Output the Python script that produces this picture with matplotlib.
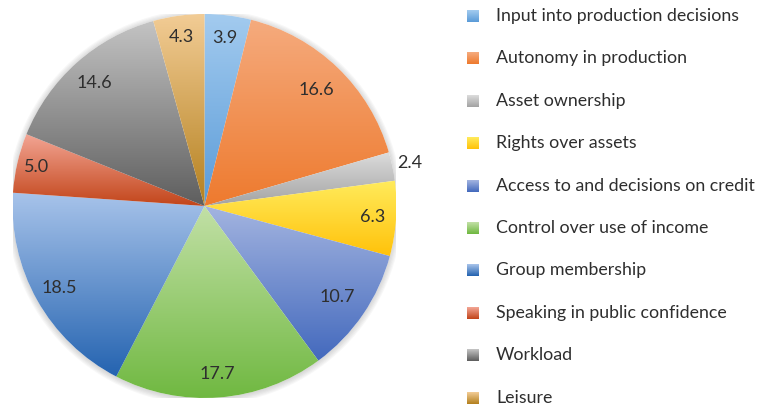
import numpy as np
import matplotlib
matplotlib.use("Agg")
import matplotlib.pyplot as plt
from matplotlib.patches import Wedge, Circle
from matplotlib.colors import LinearSegmentedColormap

# data
categories = ["Input into production decisions", "Autonomy in production",
              "Asset ownership", "Rights over assets",
              "Access to and decisions on credit", "Control over use of income",
              "Group membership", "Speaking in public confidence",
              "Workload", "Leisure"]
values = [3.9, 16.6, 2.4, 6.3, 10.7, 17.7, 18.5, 5.0, 14.6, 4.3]

# gradient colours (top, bottom) per slice
tops = ["#a3cbef", "#f5ab7e", "#dcdcdc", "#ffeb5c", "#a3b4e0",
        "#c2e0a6", "#a7c3ea", "#f3a594", "#c4c4c4", "#f2cc95"]
bottoms = ["#5a9bd8", "#ee7a2e", "#a3a3a3", "#ffc20a", "#4369bd",
           "#6fb840", "#2463b0", "#c2451a", "#5e5e5e", "#b4801e"]
label_r = [0.88, 0.84, 1.09, 0.88, 0.84, 0.88, 0.87, 0.9, 0.86, 0.89]

W, H = 757, 407
fig = plt.figure(figsize=(W / 100, H / 100), dpi=100)

# pie axes: centre (204.5, 206) px, radius 192 px
cx, cy, R = 204.5, 206, 192
ax = fig.add_axes([(cx - R) / W, (H - cy - R) / H, 2 * R / W, 2 * R / H])
ax.set_axis_off()

# soft shadow ring
for k in range(6):
    ax.add_patch(Circle((0.0, -0.005), 1.0 + 0.006 * k, color="#808080",
                        alpha=0.06, lw=0, zorder=0))
ax.add_patch(Circle((0, 0), 1.0, color="white", lw=0, zorder=0.5))

grad = np.linspace(0, 1, 256).reshape(-1, 1)
total = sum(values)
start = 90.0
for i, v in enumerate(values):
    span = 360.0 * v / total
    t1, t2 = start - span, start
    wedge = Wedge((0, 0), 1.0, t1, t2, lw=0, facecolor="none")
    ax.add_patch(wedge)
    verts = wedge.get_path().vertices
    ymin, ymax = verts[:, 1].min(), verts[:, 1].max()
    cmap = LinearSegmentedColormap.from_list("g%d" % i, [tops[i], bottoms[i]])
    im = ax.imshow(grad, cmap=cmap, extent=[-1.05, 1.05, ymin, ymax],
                   origin="upper", aspect="auto", zorder=1,
                   interpolation="bilinear")
    im.set_clip_path(wedge)
    mid = np.radians((t1 + t2) / 2)
    ax.text(label_r[i] * np.cos(mid), label_r[i] * np.sin(mid), "%.1f" % v,
            ha="center", va="center", fontsize=13, color="#2e2e2e",
            family="Lato", zorder=3)
    start = t1

ax.set_xlim(-1, 1)
ax.set_ylim(-1, 1)
ax.set_aspect("equal")

# legend drawn in pixel coordinates
lg = fig.add_axes([0, 0, 1, 1])
lg.set_xlim(0, W)
lg.set_ylim(H, 0)
lg.set_axis_off()
sq = np.linspace(0, 1, 32).reshape(-1, 1)
y0, step = 16, 42.4
for i, name in enumerate(categories):
    y = y0 + i * step
    cmap = LinearSegmentedColormap.from_list("l%d" % i, [tops[i], bottoms[i]])
    lg.imshow(sq, cmap=cmap, extent=[467, 479, y + 6, y - 6],
              origin="upper", aspect="auto")
    lg.text(496, y, name, ha="left", va="center", fontsize=12.8,
            color="#2e2e2e", family="Lato")
lg.set_xlim(0, W)
lg.set_ylim(H, 0)

fig.savefig("out.png", dpi=100)
